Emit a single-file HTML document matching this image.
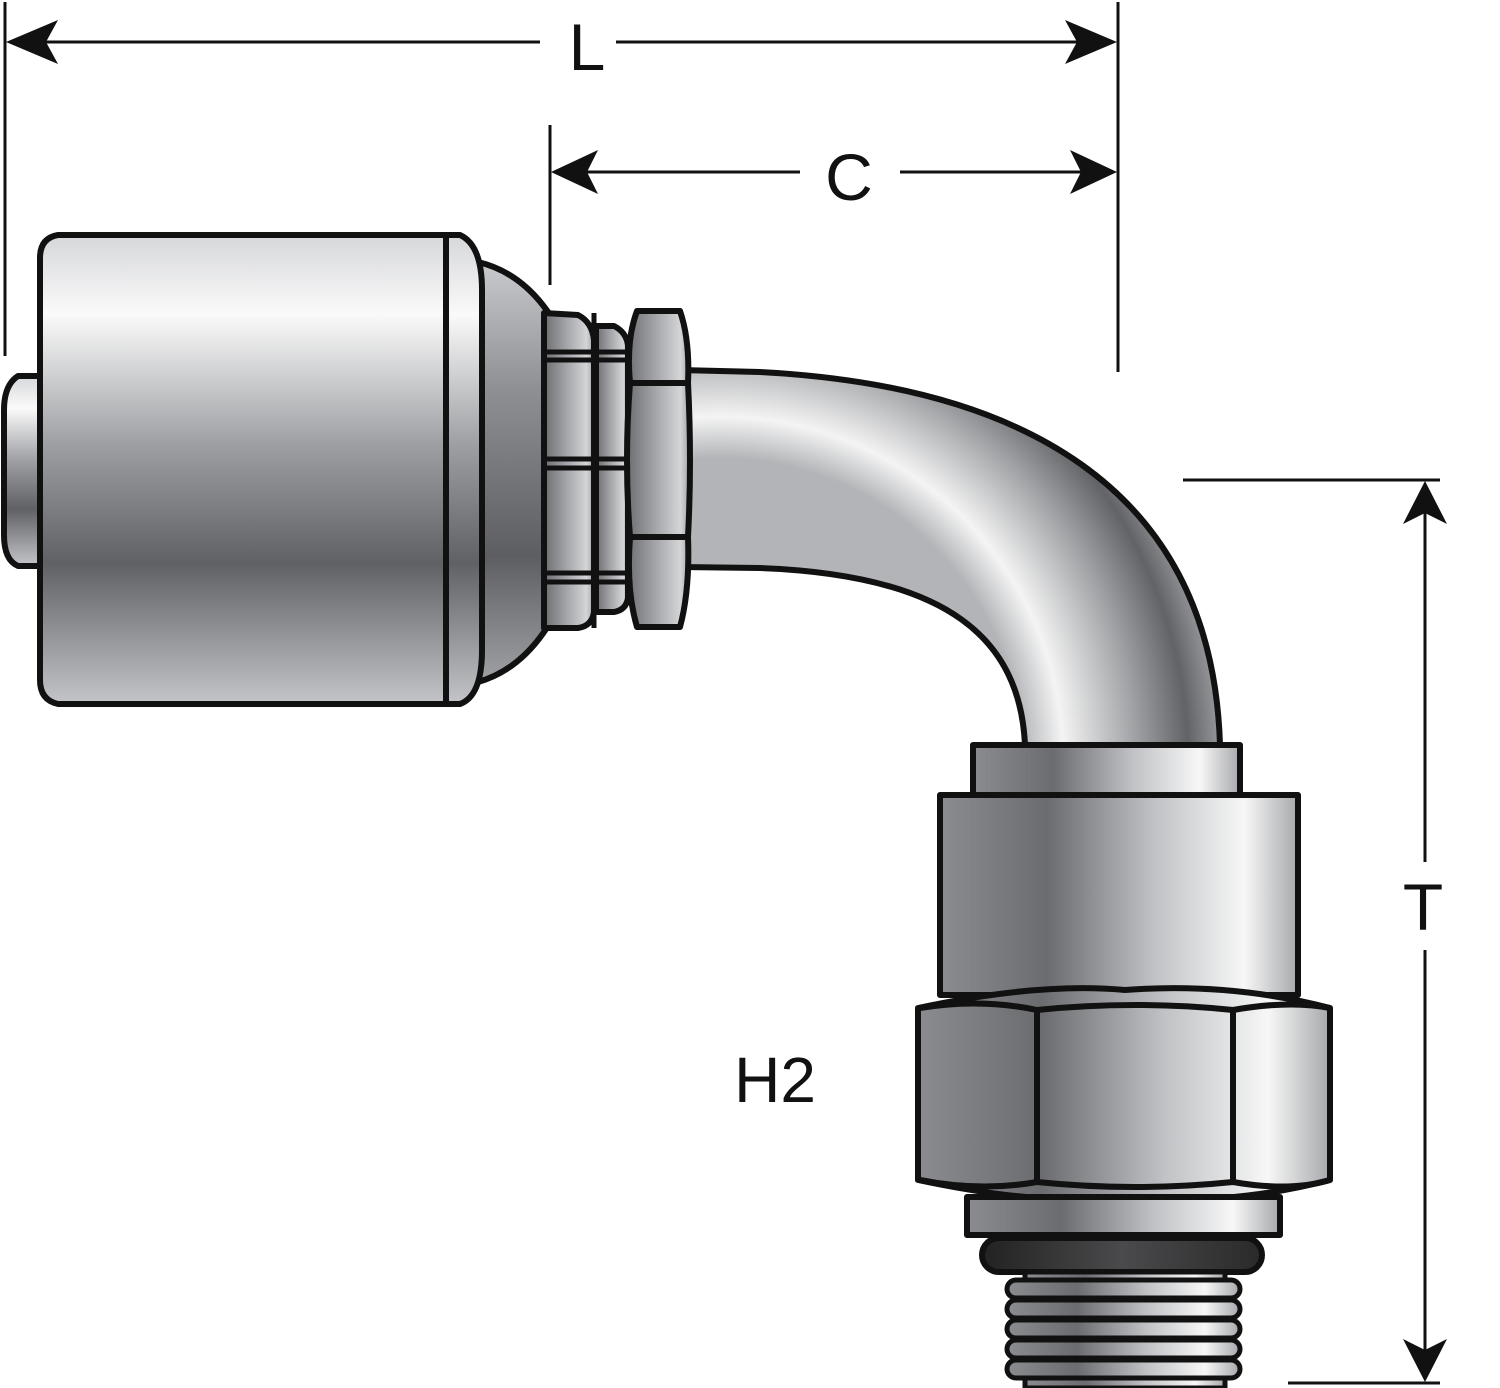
<!DOCTYPE html>
<html><head><meta charset="utf-8"><style>html,body{margin:0;padding:0;background:#fff}svg{display:block}</style></head>
<body>
<svg width="1500" height="1388" viewBox="0 0 1500 1388" xmlns="http://www.w3.org/2000/svg">
<defs>
<linearGradient id="gv" x1="0" y1="0" x2="0" y2="1">
<stop offset="0" stop-color="#d6d7da"/><stop offset="0.17" stop-color="#fafafa"/><stop offset="0.45" stop-color="#9c9ea2"/><stop offset="0.7" stop-color="#606165"/><stop offset="1" stop-color="#c4c5c8"/>
</linearGradient>
<linearGradient id="gv2" x1="0" y1="0" x2="0" y2="1">
<stop offset="0" stop-color="#c9cacd"/><stop offset="0.3" stop-color="#8e9094"/><stop offset="0.7" stop-color="#5d5e62"/><stop offset="1" stop-color="#9fa1a4"/>
</linearGradient>
<linearGradient id="gh" x1="0" y1="0" x2="1" y2="0">
<stop offset="0" stop-color="#8a8c90"/><stop offset="0.3" stop-color="#6a6c70"/><stop offset="0.6" stop-color="#c0c2c5"/><stop offset="0.85" stop-color="#f7f7f7"/><stop offset="1" stop-color="#a6a8ab"/>
</linearGradient>
<linearGradient id="gn" x1="0" y1="0" x2="1" y2="0">
<stop offset="0" stop-color="#6b6d71"/><stop offset="0.5" stop-color="#a9abae"/><stop offset="0.85" stop-color="#d4d5d7"/><stop offset="1" stop-color="#9ea0a3"/>
</linearGradient>
<linearGradient id="go" x1="0" y1="0" x2="1" y2="0">
<stop offset="0" stop-color="#222"/><stop offset="0.5" stop-color="#4a4a4c"/><stop offset="1" stop-color="#2a2a2b"/>
</linearGradient>
<radialGradient id="gbend" cx="720" cy="760" r="520" gradientUnits="userSpaceOnUse">
<stop offset="0.58" stop-color="#b2b4b7"/><stop offset="0.66" stop-color="#f4f4f4"/><stop offset="0.8" stop-color="#9fa1a4"/><stop offset="0.9" stop-color="#626367"/><stop offset="1" stop-color="#b6b7ba"/>
</radialGradient>
</defs>
<g stroke="#111" stroke-width="6" stroke-linejoin="round">
<path d="M680,370 L760,372 C1010,385 1212,480 1220,745 L1025,745 C1020,640 950,575 760,568 L680,567 Z" fill="url(#gbend)"/>
<path d="M42,376 L18,376 Q4,385 4,410 L4,535 Q4,560 18,566 L42,566 Z" fill="url(#gv)"/>
<path d="M478,262 Q520,272 548,312 L548,626 Q520,670 478,682 Z" fill="url(#gv2)"/>
<path d="M58,235 L460,235 Q482,245 482,290 L482,650 Q482,696 460,704 L58,704 Q40,700 40,680 L40,258 Q40,238 58,235 Z" fill="url(#gv)"/>
<line x1="446" y1="235" x2="446" y2="704"/>
<path d="M544,313 L578,315 Q592,322 594,340 L594,612 Q592,626 578,628 L544,628 Z" fill="url(#gn)"/>
<path d="M596,326 L614,326 Q626,332 628,345 L628,598 Q626,610 614,612 L596,612 Z" fill="url(#gn)"/>
<g stroke-width="5"><line x1="544" y1="352" x2="628" y2="352"/><line x1="544" y1="360" x2="628" y2="360"/><line x1="544" y1="459" x2="628" y2="459"/><line x1="544" y1="468" x2="628" y2="468"/><line x1="544" y1="573" x2="628" y2="573"/><line x1="544" y1="582" x2="628" y2="582"/><line x1="594" y1="313" x2="594" y2="628"/></g>
<path d="M637,311 L680,311 Q690,340 688,383 Q692,460 688,537 Q690,590 680,627 L637,627 Q626,590 630,537 Q624,460 630,383 Q626,340 637,311 Z" fill="url(#gn)"/>
<line x1="630" y1="383" x2="688" y2="383"/><line x1="630" y1="537" x2="688" y2="537"/>
<rect x="973" y="745" width="267" height="50" fill="url(#gh)"/>
<rect x="940" y="795" width="358" height="200" fill="url(#gh)"/>
<path d="M918,1008 Q1040,982 1125,990 Q1230,982 1330,1008 L1330,1180 Q1230,1206 1125,1198 Q1040,1206 918,1180 Z" fill="url(#gh)"/>
<path d="M920,1008 Q980,998 1037,1010 Q1135,1000 1233,1010 Q1290,1000 1330,1008" fill="none"/>
<path d="M920,1180 Q980,1192 1037,1182 Q1135,1192 1233,1182 Q1290,1192 1330,1180" fill="none"/>
<line x1="1037" y1="1010" x2="1037" y2="1182"/><line x1="1233" y1="1010" x2="1233" y2="1182"/>
<rect x="967" y="1197" width="313" height="38" fill="url(#gh)"/>
<rect x="982" y="1238" width="280" height="34" rx="17" fill="url(#go)"/>
<g stroke-width="5">
<rect x="1025" y="1272" width="200" height="116" fill="url(#gh)"/>
<rect x="1007" y="1280" width="233" height="18" rx="9" fill="url(#gh)"/>
<rect x="1007" y="1300" width="233" height="18" rx="9" fill="url(#gh)"/>
<rect x="1007" y="1320" width="233" height="18" rx="9" fill="url(#gh)"/>
<rect x="1007" y="1340" width="233" height="18" rx="9" fill="url(#gh)"/>
<rect x="1007" y="1360" width="233" height="18" rx="9" fill="url(#gh)"/>
</g>
</g>
<g stroke="#111" stroke-width="3" fill="none">
<line x1="5" y1="2" x2="5" y2="356"/>
<line x1="1118" y1="2" x2="1118" y2="372"/>
<line x1="20" y1="42" x2="540" y2="42"/><line x1="616" y1="42" x2="1105" y2="42"/>
<line x1="550" y1="125" x2="550" y2="285"/>
<line x1="565" y1="172" x2="800" y2="172"/><line x1="900" y1="172" x2="1105" y2="172"/>
<line x1="1183" y1="480" x2="1440" y2="480"/>
<line x1="1288" y1="1383" x2="1440" y2="1383"/>
<line x1="1425" y1="495" x2="1425" y2="862"/><line x1="1425" y1="950" x2="1425" y2="1370"/>
</g>
<g fill="#111">
<path d="M6,42 L58,20 L46,42 L58,64 Z"/>
<path d="M1117,42 L1065,20 L1077,42 L1065,64 Z"/>
<path d="M551,172 L598,150 L587,172 L598,194 Z"/>
<path d="M1117,172 L1070,150 L1081,172 L1070,194 Z"/>
<path d="M1425,481 L1403,524 L1425,513 L1447,524 Z"/>
<path d="M1425,1382 L1403,1339 L1425,1350 L1447,1339 Z"/>
</g>
<g font-family="Liberation Sans, sans-serif" fill="#111">
<text x="587" y="70" font-size="66" text-anchor="middle">L</text>
<text x="849" y="200" font-size="66" text-anchor="middle">C</text>
<text x="1423" y="930" font-size="66" text-anchor="middle">T</text>
<text x="775" y="1102" font-size="64" text-anchor="middle">H2</text>
</g>
</svg>
</body></html>
